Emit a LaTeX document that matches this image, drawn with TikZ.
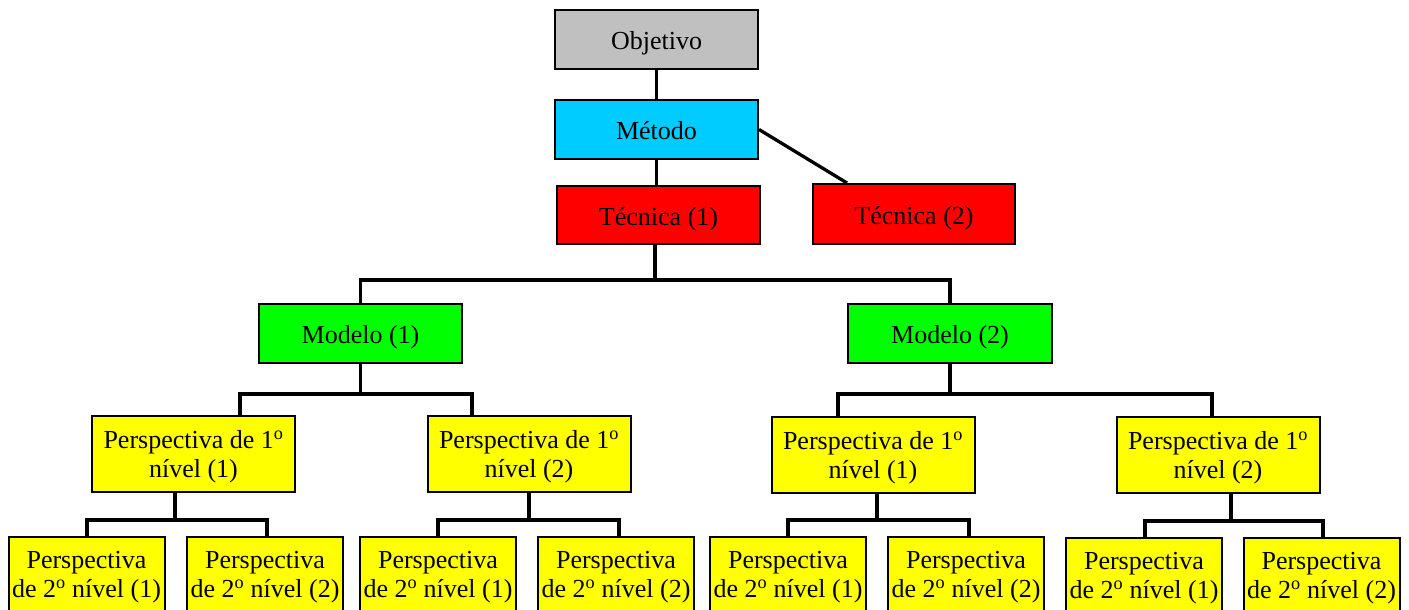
\documentclass[tikz,border=0pt]{standalone}
\usepackage{fontspec}
\setmainfont{Liberation Serif}
\usetikzlibrary{calc}
\definecolor{cinza}{HTML}{C0C0C0}
\definecolor{ciano}{HTML}{00CCFF}
\definecolor{vermelho}{HTML}{FF0000}
\definecolor{verde}{HTML}{00FF00}
\definecolor{amarelo}{HTML}{FFFF00}
\begin{document}
\begin{tikzpicture}[x=1pt,y=-1pt,
  caixa/.style={draw=black,line width=2pt,rectangle,inner sep=0pt,align=center,
    font=\fontsize{26}{29}\selectfont},
  topo/.style={caixa,minimum width=203pt,minimum height=59pt,text height=26pt,text depth=6pt},
  nivelum/.style={caixa,fill=amarelo,minimum width=203pt,minimum height=76pt,text depth=0pt},
  niveldois/.style={caixa,fill=amarelo,minimum width=156pt,minimum height=75pt,text depth=0pt},
  conn/.style={line width=3.3pt,line cap=rect}]
\useasboundingbox (0,0) rectangle (1409,610);
\clip (0,0) rectangle (1409,610);

% upper chain
\node[topo,fill=cinza] (obj) at (656.5,39.5) {Objetivo};
\node[topo,fill=ciano] (met) at (656.5,129.5) {Método};
\node[topo,fill=vermelho,minimum height=58pt] (tec1) at (658.5,215) {Técnica (1)};
\node[topo,fill=vermelho,minimum width=202pt,minimum height=60pt] (tec2) at (914,214) {Técnica (2)};

% models
\node[topo,fill=verde] (mod1) at (360.5,333.5) {Modelo (1)};
\node[topo,fill=verde,minimum width=204pt] (mod2) at (950,333.5) {Modelo (2)};

% first-level perspectives
\node[nivelum] (pa) at (193.5,454) {Perspectiva de 1\textsuperscript{o}\\nível (1)};
\node[nivelum] (pb) at (529,454) {Perspectiva de 1\textsuperscript{o}\\nível (2)};
\node[nivelum] (pc) at (873,455) {Perspectiva de 1\textsuperscript{o}\\nível (1)};
\node[nivelum] (pd) at (1218,455) {Perspectiva de 1\textsuperscript{o}\\nível (2)};

% second-level perspectives
\node[niveldois] (pa1) at (86.5,574.5) {Perspectiva\\de 2\textsuperscript{o} nível (1)};
\node[niveldois] (pa2) at (265,574.5) {Perspectiva\\de 2\textsuperscript{o} nível (2)};
\node[niveldois] (pb1) at (438,574.5) {Perspectiva\\de 2\textsuperscript{o} nível (1)};
\node[niveldois] (pb2) at (616,574.5) {Perspectiva\\de 2\textsuperscript{o} nível (2)};
\node[niveldois] (pc1) at (788,574.5) {Perspectiva\\de 2\textsuperscript{o} nível (1)};
\node[niveldois] (pc2) at (966,574.5) {Perspectiva\\de 2\textsuperscript{o} nível (2)};
\node[niveldois] (pd1) at (1144,575) {Perspectiva\\de 2\textsuperscript{o} nível (1)};
\node[niveldois] (pd2) at (1321.5,575) {Perspectiva\\de 2\textsuperscript{o} nível (2)};

% connectors of the upper chain
\draw[conn] (obj.south) -- (met.north);
\draw[conn] (met.south) -- (met.south |- tec1.north);
\draw[conn,line cap=butt] (met.east) -- ($(tec2.north west)+(35,0)$);

% tree branches
\draw[conn] (tec1.south -| 655,0) -- ++(0,35) coordinate (j0);
\draw[conn] (mod1.north) |- (j0) -| (mod2.north);

\draw[conn] (mod1.south) -- ++(0,30) coordinate (j1);
\draw[conn] (pa.north -| 240,0) |- (j1) -| (pb.north -| 472,0);
\draw[conn] (mod2.south) -- ++(0,30) coordinate (j2);
\draw[conn] (pc.north -| 838,0) |- (j2) -| (pd.north -| 1212,0);

\draw[conn] (pa.south -| 175,0) -- ++(0,27) coordinate (ja);
\draw[conn] (pa1.north -| 87,0) |- (ja) -| (pa2.north -| 267,0);
\draw[conn] (pb.south -| 529,0) -- ++(0,27) coordinate (jb);
\draw[conn] (pb1.north -| 438,0) |- (jb) -| (pb2.north -| 619,0);
\draw[conn] (pc.south -| 877,0) -- ++(0,26) coordinate (jc);
\draw[conn] (pc1.north -| 788,0) |- (jc) -| (pc2.north -| 969,0);
\draw[conn] (pd.south -| 1231,0) -- ++(0,27) coordinate (jd);
\draw[conn] (pd1.north -| 1145,0) |- (jd) -| (pd2.north -| 1323,0);
\end{tikzpicture}
\end{document}
